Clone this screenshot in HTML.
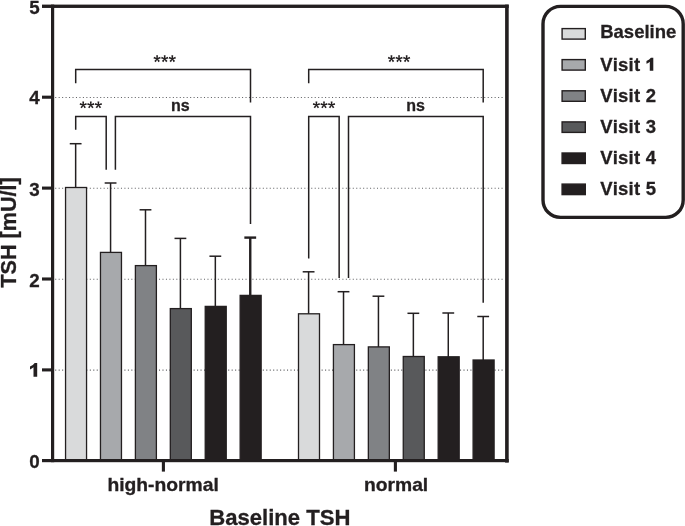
<!DOCTYPE html><html><head><meta charset="utf-8"><style>html,body{margin:0;padding:0;background:#fff}svg{display:block}#w{will-change:transform;width:685px;height:526px;overflow:hidden}text{font-family:"Liberation Sans",sans-serif;font-weight:bold;fill:#231f20;stroke:#231f20;stroke-width:0.3;font-kerning:none}</style></head><body><div id="w">
<svg width="685" height="526" viewBox="0 0 685 526">
<rect width="685" height="526" fill="#fff"/>
<line x1="55.2" x2="503.6" y1="370.1" y2="370.1" stroke="#626366" stroke-width="1.05" stroke-dasharray="1.05 2.41"/>
<line x1="55.2" x2="503.6" y1="279.2" y2="279.2" stroke="#626366" stroke-width="1.05" stroke-dasharray="1.05 2.41"/>
<line x1="55.2" x2="503.6" y1="188.3" y2="188.3" stroke="#626366" stroke-width="1.05" stroke-dasharray="1.05 2.41"/>
<line x1="55.2" x2="503.6" y1="97.4" y2="97.4" stroke="#626366" stroke-width="1.05" stroke-dasharray="1.05 2.41"/>
<line x1="75.65" x2="75.65" y1="143.7" y2="188.3" stroke="#231f20" stroke-width="1.5"/>
<line x1="69.75" x2="81.55" y1="143.7" y2="143.7" stroke="#231f20" stroke-width="1.5"/>
<rect x="65.55" y="187.50" width="21.00" height="273.30" fill="#d9dadb" stroke="#231f20" stroke-width="1.3"/>
<line x1="110.57" x2="110.57" y1="183.0" y2="253.2" stroke="#231f20" stroke-width="1.5"/>
<line x1="104.67" x2="116.47" y1="183.0" y2="183.0" stroke="#231f20" stroke-width="1.5"/>
<rect x="100.47" y="252.40" width="21.00" height="208.40" fill="#a7a9ac" stroke="#231f20" stroke-width="1.3"/>
<line x1="145.49" x2="145.49" y1="209.8" y2="266.4" stroke="#231f20" stroke-width="1.5"/>
<line x1="139.59" x2="151.39" y1="209.8" y2="209.8" stroke="#231f20" stroke-width="1.5"/>
<rect x="135.39" y="265.60" width="21.00" height="195.20" fill="#808285" stroke="#231f20" stroke-width="1.3"/>
<line x1="180.41" x2="180.41" y1="238.4" y2="309.4" stroke="#231f20" stroke-width="1.5"/>
<line x1="174.51" x2="186.31" y1="238.4" y2="238.4" stroke="#231f20" stroke-width="1.5"/>
<rect x="170.31" y="308.60" width="21.00" height="152.20" fill="#58595b" stroke="#231f20" stroke-width="1.3"/>
<line x1="215.33" x2="215.33" y1="256.2" y2="307.2" stroke="#231f20" stroke-width="1.5"/>
<line x1="209.43" x2="221.23" y1="256.2" y2="256.2" stroke="#231f20" stroke-width="1.5"/>
<rect x="205.23" y="306.40" width="21.00" height="154.40" fill="#231f20" stroke="#231f20" stroke-width="1.3"/>
<line x1="250.25" x2="250.25" y1="237.6" y2="296.2" stroke="#231f20" stroke-width="2.4"/>
<line x1="244.35" x2="256.15" y1="237.6" y2="237.6" stroke="#231f20" stroke-width="2.4"/>
<rect x="240.15" y="295.40" width="21.00" height="165.40" fill="#231f20" stroke="#231f20" stroke-width="1.3"/>
<line x1="308.60" x2="308.60" y1="271.8" y2="314.6" stroke="#231f20" stroke-width="1.5"/>
<line x1="302.70" x2="314.50" y1="271.8" y2="271.8" stroke="#231f20" stroke-width="1.5"/>
<rect x="298.50" y="313.80" width="21.00" height="147.00" fill="#d9dadb" stroke="#231f20" stroke-width="1.3"/>
<line x1="343.52" x2="343.52" y1="291.7" y2="345.4" stroke="#231f20" stroke-width="1.5"/>
<line x1="337.62" x2="349.42" y1="291.7" y2="291.7" stroke="#231f20" stroke-width="1.5"/>
<rect x="333.42" y="344.60" width="21.00" height="116.20" fill="#a7a9ac" stroke="#231f20" stroke-width="1.3"/>
<line x1="378.44" x2="378.44" y1="296.2" y2="347.7" stroke="#231f20" stroke-width="1.5"/>
<line x1="372.54" x2="384.34" y1="296.2" y2="296.2" stroke="#231f20" stroke-width="1.5"/>
<rect x="368.34" y="346.90" width="21.00" height="113.90" fill="#808285" stroke="#231f20" stroke-width="1.3"/>
<line x1="413.36" x2="413.36" y1="313.3" y2="357.3" stroke="#231f20" stroke-width="1.5"/>
<line x1="407.46" x2="419.26" y1="313.3" y2="313.3" stroke="#231f20" stroke-width="1.5"/>
<rect x="403.26" y="356.50" width="21.00" height="104.30" fill="#58595b" stroke="#231f20" stroke-width="1.3"/>
<line x1="448.28" x2="448.28" y1="313.0" y2="357.6" stroke="#231f20" stroke-width="1.5"/>
<line x1="442.38" x2="454.18" y1="313.0" y2="313.0" stroke="#231f20" stroke-width="1.5"/>
<rect x="438.18" y="356.80" width="21.00" height="104.00" fill="#231f20" stroke="#231f20" stroke-width="1.3"/>
<line x1="483.20" x2="483.20" y1="316.5" y2="360.8" stroke="#231f20" stroke-width="1.5"/>
<line x1="477.30" x2="489.10" y1="316.5" y2="316.5" stroke="#231f20" stroke-width="1.5"/>
<rect x="473.10" y="360.00" width="21.00" height="100.80" fill="#231f20" stroke="#231f20" stroke-width="1.3"/>
<g fill="#231f20">
<rect x="42" y="4.6" width="466.7" height="3.35"/>
<rect x="505.1" y="4.6" width="3.6" height="458"/>
<rect x="51.0" y="4.6" width="3.2" height="457.6"/>
<rect x="42" y="459.0" width="466.7" height="3.2"/>
<rect x="42" y="368.35" width="10" height="3.1"/>
<rect x="42" y="277.45" width="10" height="3.1"/>
<rect x="42" y="186.55" width="10" height="3.1"/>
<rect x="42" y="95.65" width="10" height="3.1"/>
<rect x="161.85" y="460" width="3.1" height="11.6"/>
<rect x="393.85" y="460" width="3.1" height="11.6"/>
</g>
<g stroke="#231f20" stroke-width="1.5" fill="none">
<path d="M75.7 83.2 V69.5 H250.5 V102.5"/>
<path d="M75.7 129.8 V116.4 H106.2 V169.7"/>
<path d="M115.4 169.7 V116.4 H250.5 V224.1"/>
<path d="M308.7 83.2 V69.5 H483.2 V102.5"/>
<path d="M308.7 258.5 V116.4 H339.15 V278.1"/>
<path d="M348.5 278.1 V116.4 H483.2 V302.8"/>
</g>
<path fill="#231f20" d="M157.65 58.80 L158.00 55.30 L156.20 55.30 L156.55 58.80ZM157.27 59.32 L160.71 58.57 L160.15 56.86 L156.93 58.28ZM156.66 59.12 L158.43 62.16 L159.89 61.10 L157.54 58.48ZM156.66 58.48 L154.31 61.10 L155.77 62.16 L157.54 59.12ZM157.27 58.28 L154.05 56.86 L153.49 58.57 L156.93 59.32ZM165.25 58.80 L165.60 55.30 L163.80 55.30 L164.15 58.80ZM164.87 59.32 L168.31 58.57 L167.75 56.86 L164.53 58.28ZM164.26 59.12 L166.03 62.16 L167.49 61.10 L165.14 58.48ZM164.26 58.48 L161.91 61.10 L163.37 62.16 L165.14 59.12ZM164.87 58.28 L161.65 56.86 L161.09 58.57 L164.53 59.32ZM172.85 58.80 L173.20 55.30 L171.40 55.30 L171.75 58.80ZM172.47 59.32 L175.91 58.57 L175.35 56.86 L172.13 58.28ZM171.86 59.12 L173.63 62.16 L175.09 61.10 L172.74 58.48ZM171.86 58.48 L169.51 61.10 L170.97 62.16 L172.74 59.12ZM172.47 58.28 L169.25 56.86 L168.69 58.57 L172.13 59.32Z"/>
<path fill="#231f20" d="M83.75 105.00 L84.10 101.50 L82.30 101.50 L82.65 105.00ZM83.37 105.52 L86.81 104.77 L86.25 103.06 L83.03 104.48ZM82.76 105.32 L84.53 108.36 L85.99 107.30 L83.64 104.68ZM82.76 104.68 L80.41 107.30 L81.87 108.36 L83.64 105.32ZM83.37 104.48 L80.15 103.06 L79.59 104.77 L83.03 105.52ZM91.35 105.00 L91.70 101.50 L89.90 101.50 L90.25 105.00ZM90.97 105.52 L94.41 104.77 L93.85 103.06 L90.63 104.48ZM90.36 105.32 L92.13 108.36 L93.59 107.30 L91.24 104.68ZM90.36 104.68 L88.01 107.30 L89.47 108.36 L91.24 105.32ZM90.97 104.48 L87.75 103.06 L87.19 104.77 L90.63 105.52ZM98.95 105.00 L99.30 101.50 L97.50 101.50 L97.85 105.00ZM98.57 105.52 L102.01 104.77 L101.45 103.06 L98.23 104.48ZM97.96 105.32 L99.73 108.36 L101.19 107.30 L98.84 104.68ZM97.96 104.68 L95.61 107.30 L97.07 108.36 L98.84 105.32ZM98.57 104.48 L95.35 103.06 L94.79 104.77 L98.23 105.52Z"/>
<path fill="#231f20" d="M392.00 58.80 L392.35 55.30 L390.55 55.30 L390.90 58.80ZM391.62 59.32 L395.06 58.57 L394.50 56.86 L391.28 58.28ZM391.01 59.12 L392.78 62.16 L394.24 61.10 L391.89 58.48ZM391.01 58.48 L388.66 61.10 L390.12 62.16 L391.89 59.12ZM391.62 58.28 L388.40 56.86 L387.84 58.57 L391.28 59.32ZM399.60 58.80 L399.95 55.30 L398.15 55.30 L398.50 58.80ZM399.22 59.32 L402.66 58.57 L402.10 56.86 L398.88 58.28ZM398.61 59.12 L400.38 62.16 L401.84 61.10 L399.49 58.48ZM398.61 58.48 L396.26 61.10 L397.72 62.16 L399.49 59.12ZM399.22 58.28 L396.00 56.86 L395.44 58.57 L398.88 59.32ZM407.20 58.80 L407.55 55.30 L405.75 55.30 L406.10 58.80ZM406.82 59.32 L410.26 58.57 L409.70 56.86 L406.48 58.28ZM406.21 59.12 L407.98 62.16 L409.44 61.10 L407.09 58.48ZM406.21 58.48 L403.86 61.10 L405.32 62.16 L407.09 59.12ZM406.82 58.28 L403.60 56.86 L403.04 58.57 L406.48 59.32Z"/>
<path fill="#231f20" d="M316.95 105.00 L317.30 101.50 L315.50 101.50 L315.85 105.00ZM316.57 105.52 L320.01 104.77 L319.45 103.06 L316.23 104.48ZM315.96 105.32 L317.73 108.36 L319.19 107.30 L316.84 104.68ZM315.96 104.68 L313.61 107.30 L315.07 108.36 L316.84 105.32ZM316.57 104.48 L313.35 103.06 L312.79 104.77 L316.23 105.52ZM324.55 105.00 L324.90 101.50 L323.10 101.50 L323.45 105.00ZM324.17 105.52 L327.61 104.77 L327.05 103.06 L323.83 104.48ZM323.56 105.32 L325.33 108.36 L326.79 107.30 L324.44 104.68ZM323.56 104.68 L321.21 107.30 L322.67 108.36 L324.44 105.32ZM324.17 104.48 L320.95 103.06 L320.39 104.77 L323.83 105.52ZM332.15 105.00 L332.50 101.50 L330.70 101.50 L331.05 105.00ZM331.77 105.52 L335.21 104.77 L334.65 103.06 L331.43 104.48ZM331.16 105.32 L332.93 108.36 L334.39 107.30 L332.04 104.68ZM331.16 104.68 L328.81 107.30 L330.27 108.36 L332.04 105.32ZM331.77 104.48 L328.55 103.06 L327.99 104.77 L331.43 105.52Z"/>
<g font-size="16" text-anchor="middle">
<text x="180.3" y="110.5">ns</text>
<text x="415.6" y="110.5">ns</text>
</g>
<g font-size="18.8" text-anchor="end">
<text x="39.7" y="468.4">0</text>
<text x="39.7" y="286.6">2</text>
<text x="39.7" y="195.7">3</text>
<text x="39.7" y="104.3">4</text>
<text x="39.7" y="13.9">5</text>
</g>
<path fill="#231f20" d="M34.7 363.0 H37.2 V376.8 H33.5 V367.3 Q31.9 368.7 30.0 369.4 V366.4 Q33.3 365.2 34.7 363.0Z"/>
<g font-size="18" text-anchor="middle">
<text transform="translate(163.1 491) scale(1.072 1)">high-normal</text>
<text transform="translate(396.1 491) scale(1.072 1)">normal</text>
</g>
<text x="279.8" y="524.5" font-size="22.1" text-anchor="middle">Baseline TSH</text>
<text transform="translate(16.1 232.4) rotate(-90)" font-size="21.6" text-anchor="middle">TSH [mU/l]</text>
<rect x="543" y="6.4" width="140.2" height="211" rx="17.5" ry="17.5" fill="#fff" stroke="#231f20" stroke-width="3.4"/>
<rect x="562.1" y="28.6" width="23.2" height="10.5" fill="#d9dadb" stroke="#231f20" stroke-width="1.4"/>
<text x="600.2" y="38.2" font-size="18.5">Baseline</text>
<rect x="562.1" y="59.6" width="23.2" height="10.5" fill="#a7a9ac" stroke="#231f20" stroke-width="1.4"/>
<text x="600.2" y="70.8" font-size="18.5" letter-spacing="0.22">Visit</text>
<path fill="#231f20" transform="translate(653.3 70.8) scale(0.95)" d="M-2.5 -13.8 H0 V0 H-3.7 V-9.5 Q-5.3 -8.1 -7.2 -7.4 V-10.4 Q-3.9 -11.6 -2.5 -13.8Z"/>
<rect x="562.1" y="90.8" width="23.2" height="10.5" fill="#808285" stroke="#231f20" stroke-width="1.4"/>
<text x="600.2" y="102.1" font-size="18.5" letter-spacing="0.22">Visit 2</text>
<rect x="562.1" y="121.9" width="23.2" height="10.5" fill="#58595b" stroke="#231f20" stroke-width="1.4"/>
<text x="600.2" y="133.1" font-size="18.5" letter-spacing="0.22">Visit 3</text>
<rect x="562.1" y="153.0" width="23.2" height="10.5" fill="#231f20" stroke="#231f20" stroke-width="1.4"/>
<text x="600.2" y="164.1" font-size="18.5" letter-spacing="0.22">Visit 4</text>
<rect x="562.1" y="184.1" width="23.2" height="10.5" fill="#231f20" stroke="#231f20" stroke-width="1.4"/>
<text x="600.2" y="195.0" font-size="18.5" letter-spacing="0.22">Visit 5</text>
</svg></div></body></html>
